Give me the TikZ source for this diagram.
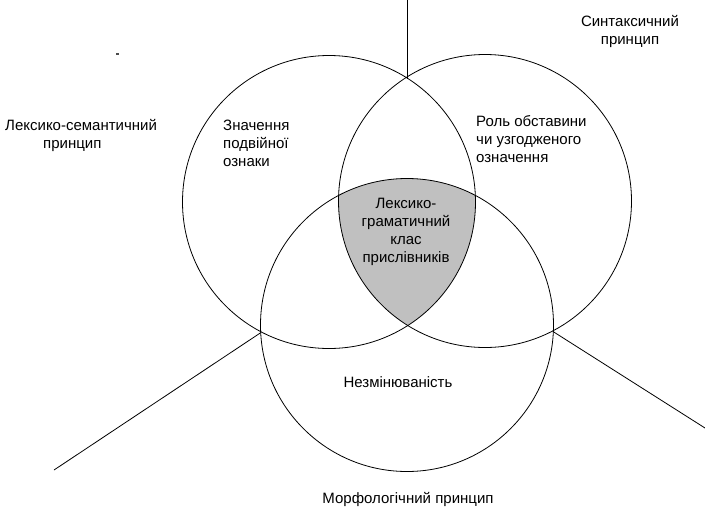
\documentclass[tikz,border=0pt]{standalone}
\usepackage{fontspec}
\setmainfont{Liberation Sans}
\begin{document}
\begin{tikzpicture}[x=1pt,y=-1pt,
  ring/.style={circle,draw=black,line width=0.8pt,minimum size=293pt,inner sep=0pt},
  lbl/.style={font=\fontsize{15}{18}\selectfont,inner sep=0pt,text=black},
  link/.style={draw=black,line width=0.8pt}]
\useasboundingbox (0,0) rectangle (705,507);
\fill[white] (0,0) rectangle (705,507);
\definecolor{lensgray}{RGB}{192,192,192}
% shaded triple intersection
\begin{scope}
  \clip (329,202) circle[radius=146.5pt];
  \clip (485,201) circle[radius=146.5pt];
  \fill[fill=lensgray] (407,325) circle[radius=146.5pt];
\end{scope}
\node[ring] (L) at (329,202) {};
\node[ring] (R) at (485,201) {};
\node[ring] (B) at (407,325) {};
% intersection points and free ends
\coordinate (tLR) at (407,79);
\coordinate (tLB) at (261,332.5);
\coordinate (tRB) at (553,331.5);
\coordinate (eT) at (407,0);
\coordinate (eL) at (54,470);
\coordinate (eR) at (705,428);
\draw[link] (eT) -- (tLR);
\draw[link] (eL) -- (tLB);
\draw[link] (eR) -- (tRB);
% small mark
\coordinate (m1) at (116,54);
\coordinate (m2) at (119,54);
\draw[line width=1.2pt,black!70] (m1) -- (m2);
% labels
\node[lbl,align=left,anchor=north west] (ls) at (5,119) {Лексико-семантичний\\\hspace*{38pt}принцип};
\node[lbl,align=center] (sp) at (630,31) {Синтаксичний\\принцип};
\node[lbl,align=left,anchor=west] (zn) at (223,143) {Значення\\подвійної\\ознаки};
\node[lbl,align=left,anchor=west] (ro) at (476,139) {Роль обставини\\чи узгодженого\\означення};
\node[lbl,align=center] (lg) at (406,232) {Лексико-\\граматичний\\клас\\прислівників};
\node[lbl] (nz) at (398,382) {Незмінюваність};
\node[lbl] (mp) at (408,499) {Морфологічний принцип};
\end{tikzpicture}
\end{document}
